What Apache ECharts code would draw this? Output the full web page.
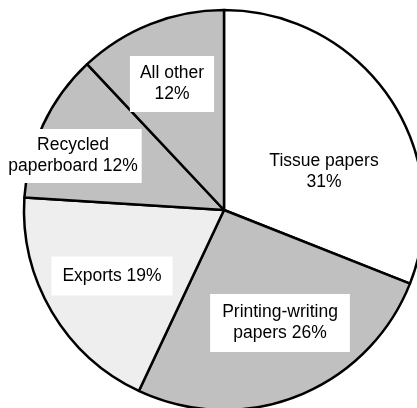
<!DOCTYPE html>
<html>
<head>
<meta charset="utf-8">
<script src="https://cdn.jsdelivr.net/npm/echarts@6/dist/echarts.min.js"></script>
<style>html,body{margin:0;padding:0;background:#fff}#c{width:417px;height:408px}</style>
</head>
<body>
<div id="c"></div>
<script>
const categories = ['Tissue papers', 'Printing-writing papers', 'Exports', 'Recycled paperboard', 'All other'];
const values = [31, 26, 19, 12, 12];
const labelTexts = ['Tissue papers\n31%', 'Printing-writing\npapers 26%', 'Exports 19%', 'Recycled\npaperboard 12%', 'All other\n12%'];

const sliceColors = ['#ffffff', '#c0c0c0', '#eeeeee', '#c0c0c0', '#c0c0c0'];
const labelPos = [[324, 172], [280, 323], [112, 276], [73, 156], [172, 84]];
const labelPad = [[0, 0], [8, 12, 8, 12], [9, 11], [6, 4], [7, 10]];

const chart = echarts.init(document.getElementById('c'), null, {renderer: 'canvas'});
chart.setOption({
  animation: false,
  series: [{
    type: 'pie',
    center: [224, 210],
    radius: [0, 200],
    startAngle: 90,
    clockwise: true,
    avoidLabelOverlap: false,
    data: categories.map((c, i) => ({
      name: c,
      value: values[i],
      itemStyle: {color: sliceColors[i]},
      label: {
        formatter: labelTexts[i],
        backgroundColor: i === 0 ? 'transparent' : '#ffffff',
        padding: labelPad[i]
      }
    })),
    itemStyle: {borderColor: '#000', borderWidth: 2.5},
    label: {
      show: true,
      position: 'inside',
      color: '#000',
      fontFamily: 'Liberation Sans, Arial, sans-serif',
      fontSize: 17.5,
      lineHeight: 21,
      align: 'center'
    },
    labelLine: {show: false},
    labelLayout: function (params) {
      const p = labelPos[params.dataIndex];
      return {x: p[0], y: p[1], align: 'center', verticalAlign: 'middle'};
    },
    emphasis: {disabled: true}
  }]
});
</script>
</body>
</html>
